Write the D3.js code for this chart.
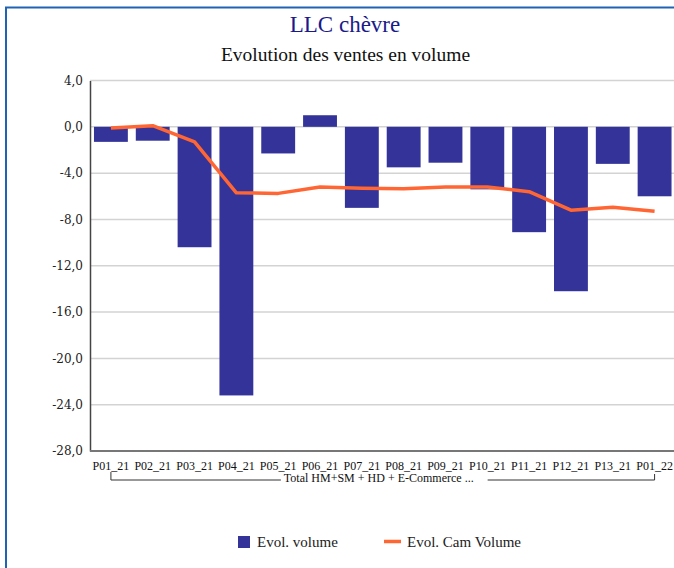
<!DOCTYPE html>
<html><head><meta charset="utf-8">
<script src="https://cdn.jsdelivr.net/npm/d3@7"></script>
<style>body{margin:0;background:#fff}svg{display:block}</style>
</head><body><svg id="c" width="674" height="568"></svg>
<script>
const categories = ["P01_21","P02_21","P03_21","P04_21","P05_21","P06_21","P07_21","P08_21","P09_21","P10_21","P11_21","P12_21","P13_21","P01_22"];
const evolVolume = [-1.3,-1.2,-10.4,-23.2,-2.3,1.0,-7.0,-3.5,-3.1,-5.4,-9.1,-14.2,-3.2,-6.0];
const evolCamVolume = [-0.1,0.1,-1.3,-5.7,-5.75,-5.2,-5.3,-5.35,-5.2,-5.2,-5.6,-7.2,-6.95,-7.3];
const yTicks = [4,0,-4,-8,-12,-16,-20,-24,-28];
const groupLabel = "Total HM+SM + HD + E-Commerce ...";
const title = "LLC chèvre";
const subtitle = "Evolution des ventes en volume";
const legendLabels = ["Evol. volume","Evol. Cam Volume"];

const svg = d3.select("#c");
const serif = "'Liberation Serif', 'Times New Roman', serif";
const tickFont = "'DejaVu Serif', serif";
const barColor = "#333399", lineColor = "#ff6633";

// frame
svg.append("rect").attr("x",6).attr("y",7.5).attr("width",700).attr("height",600)
  .attr("fill","none").attr("stroke","#1f63b5").attr("stroke-width",2);

const x = d3.scaleBand().domain(categories).range([90,675.5]).paddingInner(0.19).paddingOuter(0.095);
const y = d3.scaleLinear().domain([-28,4]).range([451,80.5]);

// gridlines
svg.append("g").selectAll("line").data(yTicks).join("line")
  .attr("x1",90).attr("x2",674).attr("y1",d=>y(d)).attr("y2",d=>y(d))
  .attr("stroke","#d3d3d3").attr("stroke-width",1.5);

// y axis labels
const fmt = d => d3.format(".1f")(d).replace(".",",").replace("−","-");
const yAxis = d3.axisLeft(y).tickValues(yTicks).tickSize(0).tickPadding(7).tickFormat(fmt);
const ya = svg.append("g").attr("transform","translate(90,0)").call(yAxis);
ya.attr("font-family",null).attr("font-size",null);
ya.select(".domain").attr("stroke","#444").attr("stroke-width",1.5);
ya.selectAll("text").style("font-family",tickFont).style("font-size","12px").attr("fill","#222");

// bars
svg.append("g").selectAll("rect").data(evolVolume).join("rect")
  .attr("x",(d,i)=>x(categories[i])).attr("width",x.bandwidth())
  .attr("y",d=>y(Math.max(0,d))).attr("height",d=>Math.abs(y(d)-y(0)))
  .attr("fill",barColor);

// x axis
const xAxis = d3.axisBottom(x).tickSize(0).tickPadding(10);
const xa = svg.append("g").attr("transform","translate(0,451)").call(xAxis);
xa.attr("font-family",null).attr("font-size",null);
xa.select(".domain").attr("stroke","#777").attr("stroke-width",2).attr("d","M90,0H674");
xa.selectAll("text").style("font-family",serif).style("font-size","12px").attr("fill","#111");

// group bracket
const cx0 = x(categories[0])+x.bandwidth()/2, cx1 = x(categories[categories.length-1])+x.bandwidth()/2;
const by = 480;
const tmid = (cx0+cx1)/2-4;
const gt = svg.append("text").attr("x",tmid).attr("y",by+2).attr("text-anchor","middle")
  .style("font-family",serif).style("font-size","12px").attr("fill","#111").text(groupLabel);
const tw = gt.node().getComputedTextLength();
const bp = svg.append("g").attr("stroke","#333").attr("stroke-width",1).attr("fill","none");
bp.append("path").attr("d",`M${cx0},${by-8}V${by}H${tmid-tw/2-3}`);
bp.append("path").attr("d",`M${tmid+tw/2+14},${by}H${cx1}V${by-6}`);

// line
const line = d3.line().x((d,i)=>x(categories[i])+x.bandwidth()/2).y(d=>y(d));
svg.append("path").datum(evolCamVolume).attr("d",line)
  .attr("fill","none").attr("stroke",lineColor).attr("stroke-width",3.5).attr("stroke-linejoin","round");

// titles
svg.append("text").attr("x",345).attr("y",32).attr("text-anchor","middle")
  .style("font-family",serif).style("font-size","23px").attr("fill","#1a1a8a").text(title);
svg.append("text").attr("x",345.5).attr("y",61).attr("text-anchor","middle")
  .style("font-family",serif).style("font-size","19.5px").attr("fill","#111").text(subtitle);

// legend
const lg = svg.append("g").style("font-family",serif).style("font-size","15px").attr("fill","#222");
lg.append("rect").attr("x",238).attr("y",536).attr("width",12).attr("height",12).attr("fill",barColor);
lg.append("text").attr("x",257).attr("y",547).text(legendLabels[0]);
lg.append("line").attr("x1",384).attr("x2",401).attr("y1",541.5).attr("y2",541.5).attr("stroke",lineColor).attr("stroke-width",3.5);
lg.append("text").attr("x",407).attr("y",547).text(legendLabels[1]);
</script></body></html>
